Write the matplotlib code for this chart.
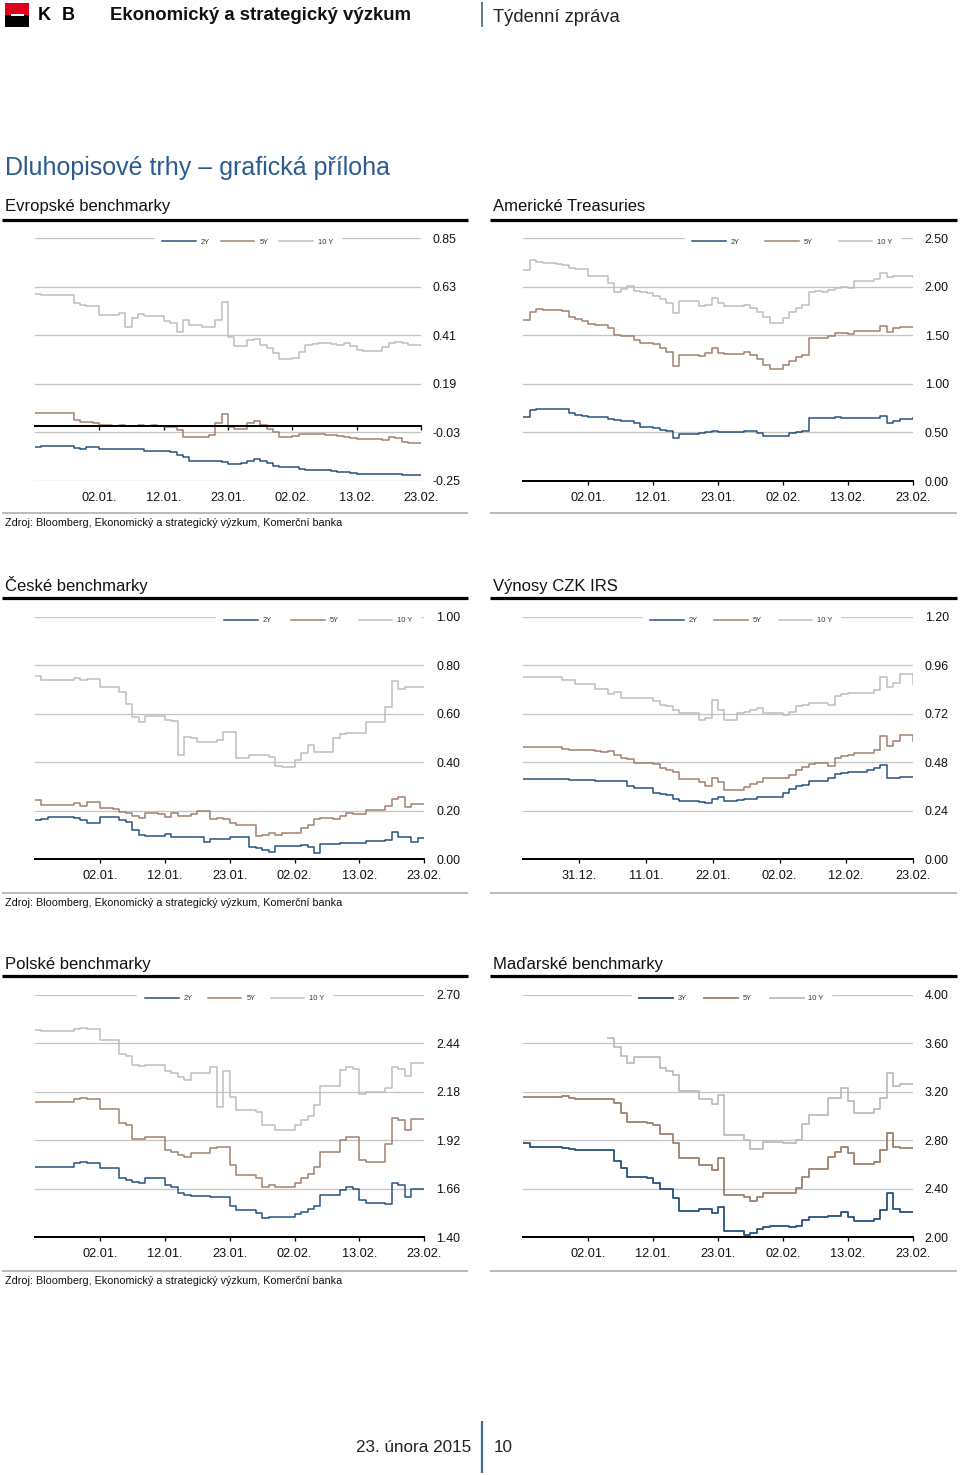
import numpy as np
import matplotlib
matplotlib.use('Agg')
import matplotlib.pyplot as plt
from matplotlib.lines import Line2D
from matplotlib.patches import Rectangle
from matplotlib.ticker import FixedLocator, FormatStrFormatter

plt.rcParams['font.family'] = ['Liberation Sans', 'DejaVu Sans']

nan = np.nan

# ---------------- data ----------------
date_labels = ["02.01.", "12.01.", "23.01.", "02.02.", "13.02.", "23.02."]
irs_date_labels = ["31.12.", "11.01.", "22.01.", "02.02.", "12.02.", "23.02."]
tick_pos = [1, 2, 3, 4, 5, 6]
irs_tick_pos = [0.863, 1.89, 2.92, 3.95, 4.97, 6.0]

eu_ticks = [-0.25, -0.03, 0.19, 0.41, 0.63, 0.85]
us_ticks = [0.0, 0.5, 1.0, 1.5, 2.0, 2.5]
cz_ticks = [0.0, 0.2, 0.4, 0.6, 0.8, 1.0]
irs_ticks = [0.0, 0.24, 0.48, 0.72, 0.96, 1.20]
pl_ticks = [1.40, 1.66, 1.92, 2.18, 2.44, 2.70]
hu_ticks = [2.0, 2.4, 2.8, 3.2, 3.6, 4.0]

labels_std = ["2Y", "5Y", "10 Y"]
labels_hu = ["3Y", "5Y", "10 Y"]

eu_2y = [-0.094, -0.092, -0.090, -0.090, -0.090, -0.090, -0.100, -0.103, -0.097, -0.097,
         -0.106, -0.106, -0.106, -0.104, -0.106, -0.106, -0.106, -0.116, -0.116, -0.112,
         -0.116, -0.118, -0.130, -0.142, -0.158, -0.158, -0.161, -0.158, -0.160, -0.165,
         -0.172, -0.172, -0.170, -0.160, -0.150, -0.158, -0.168, -0.180, -0.185, -0.185,
         -0.185, -0.195, -0.198, -0.200, -0.200, -0.200, -0.203, -0.208, -0.210, -0.212,
         -0.218, -0.218, -0.218, -0.220, -0.220, -0.218, -0.218, -0.222, -0.222, -0.222, -0.222]
eu_5y = [0.060, 0.060, 0.060, 0.060, 0.060, 0.060, 0.027, 0.019, 0.016, 0.014,
         0.004, 0.004, -0.001, 0.004, -0.001, -0.001, 0.002, -0.001, 0.002, -0.001,
         -0.004, -0.007, -0.019, -0.049, -0.049, -0.049, -0.049, -0.041, 0.011, 0.054,
         -0.004, -0.016, -0.016, 0.011, 0.023, 0.004, -0.016, -0.026, -0.049, -0.049,
         -0.046, -0.037, -0.037, -0.038, -0.038, -0.041, -0.041, -0.046, -0.049, -0.057,
         -0.061, -0.061, -0.061, -0.061, -0.064, -0.049, -0.057, -0.073, -0.076, -0.076, -0.076]
eu_10y = [0.598, 0.593, 0.593, 0.593, 0.593, 0.593, 0.555, 0.548, 0.545, 0.545,
          0.502, 0.502, 0.502, 0.510, 0.450, 0.487, 0.507, 0.498, 0.498, 0.498,
          0.477, 0.465, 0.427, 0.480, 0.457, 0.457, 0.447, 0.450, 0.480, 0.563,
          0.404, 0.362, 0.362, 0.389, 0.392, 0.367, 0.351, 0.329, 0.301, 0.301,
          0.306, 0.336, 0.367, 0.371, 0.374, 0.374, 0.371, 0.367, 0.374, 0.362,
          0.344, 0.341, 0.341, 0.341, 0.359, 0.377, 0.382, 0.374, 0.367, 0.367, 0.367]

us_2y = [0.66, 0.73, 0.74, 0.74, 0.74, 0.74, 0.74, 0.70, 0.68, 0.67,
         0.66, 0.66, 0.66, 0.64, 0.63, 0.62, 0.62, 0.60, 0.56, 0.56,
         0.55, 0.53, 0.51, 0.44, 0.48, 0.48, 0.48, 0.49, 0.50, 0.51,
         0.50, 0.50, 0.50, 0.50, 0.51, 0.51, 0.49, 0.46, 0.46, 0.46,
         0.46, 0.49, 0.50, 0.51, 0.65, 0.65, 0.65, 0.65, 0.66, 0.65,
         0.65, 0.65, 0.65, 0.65, 0.65, 0.67, 0.60, 0.62, 0.64, 0.64, 0.65]
us_5y = [1.66, 1.74, 1.77, 1.76, 1.76, 1.76, 1.75, 1.69, 1.67, 1.65,
         1.62, 1.61, 1.61, 1.58, 1.50, 1.49, 1.49, 1.45, 1.42, 1.42,
         1.41, 1.37, 1.33, 1.18, 1.30, 1.30, 1.30, 1.29, 1.32, 1.37,
         1.32, 1.31, 1.31, 1.31, 1.33, 1.30, 1.26, 1.20, 1.15, 1.15,
         1.20, 1.24, 1.28, 1.30, 1.47, 1.47, 1.47, 1.49, 1.52, 1.52,
         1.51, 1.54, 1.54, 1.54, 1.54, 1.60, 1.53, 1.58, 1.59, 1.59, 1.59]
us_10y = [2.17, 2.28, 2.26, 2.25, 2.25, 2.24, 2.22, 2.19, 2.18, 2.18,
          2.11, 2.11, 2.11, 2.04, 1.95, 1.98, 2.01, 1.96, 1.95, 1.94,
          1.91, 1.87, 1.83, 1.73, 1.85, 1.85, 1.85, 1.80, 1.81, 1.89,
          1.83, 1.80, 1.80, 1.80, 1.81, 1.78, 1.74, 1.69, 1.63, 1.63,
          1.68, 1.74, 1.78, 1.81, 1.95, 1.96, 1.95, 1.97, 1.99, 2.00,
          1.99, 2.06, 2.06, 2.06, 2.08, 2.14, 2.10, 2.11, 2.11, 2.11, 2.10]

cz_2y = [0.162, 0.165, 0.176, 0.176, 0.176, 0.176, 0.170, 0.160, 0.150, 0.150,
         0.173, 0.173, 0.173, 0.160, 0.155, 0.120, 0.100, 0.098, 0.098, 0.098,
         0.104, 0.093, 0.093, 0.093, 0.093, 0.093, 0.070, 0.082, 0.082, 0.082,
         0.093, 0.093, 0.093, 0.052, 0.045, 0.040, 0.032, 0.055, 0.055, 0.055,
         0.055, 0.058, 0.050, 0.025, 0.063, 0.063, 0.063, 0.068, 0.066, 0.066,
         0.066, 0.077, 0.077, 0.077, 0.080, 0.114, 0.090, 0.090, 0.070, 0.089, 0.089]
cz_5y = [0.245, 0.225, 0.225, 0.225, 0.225, 0.225, 0.234, 0.218, 0.238, 0.238,
         0.210, 0.210, 0.208, 0.196, 0.190, 0.180, 0.172, 0.192, 0.192, 0.185,
         0.175, 0.190, 0.180, 0.180, 0.185, 0.200, 0.200, 0.165, 0.170, 0.165,
         0.150, 0.141, 0.141, 0.141, 0.098, 0.100, 0.108, 0.100, 0.107, 0.107,
         0.107, 0.128, 0.140, 0.165, 0.170, 0.170, 0.165, 0.178, 0.190, 0.185,
         0.185, 0.203, 0.203, 0.203, 0.220, 0.250, 0.258, 0.215, 0.228, 0.228, 0.228]
cz_10y = [0.755, 0.739, 0.739, 0.739, 0.739, 0.739, 0.748, 0.738, 0.742, 0.742,
          0.712, 0.712, 0.712, 0.690, 0.640, 0.588, 0.567, 0.590, 0.590, 0.590,
          0.574, 0.570, 0.430, 0.505, 0.500, 0.485, 0.485, 0.485, 0.490, 0.526,
          0.526, 0.416, 0.416, 0.430, 0.430, 0.430, 0.423, 0.385, 0.379, 0.379,
          0.410, 0.440, 0.470, 0.444, 0.444, 0.444, 0.500, 0.515, 0.522, 0.520,
          0.520, 0.567, 0.567, 0.567, 0.629, 0.735, 0.700, 0.712, 0.712, 0.712, 0.712]

irs_2y = [0.397, 0.395, 0.397, 0.397, 0.397, 0.397, 0.395, 0.392, 0.392, 0.392,
          0.390, 0.389, 0.389, 0.389, 0.389, 0.385, 0.365, 0.355, 0.351, 0.351,
          0.330, 0.323, 0.318, 0.300, 0.290, 0.290, 0.290, 0.285, 0.278, 0.300,
          0.310, 0.288, 0.288, 0.292, 0.297, 0.300, 0.310, 0.310, 0.310, 0.310,
          0.330, 0.350, 0.365, 0.368, 0.387, 0.387, 0.387, 0.400, 0.420, 0.428,
          0.434, 0.434, 0.434, 0.440, 0.450, 0.467, 0.400, 0.400, 0.407, 0.407, 0.407]
irs_5y = [0.557, 0.557, 0.557, 0.557, 0.557, 0.557, 0.545, 0.541, 0.541, 0.541,
          0.541, 0.535, 0.532, 0.535, 0.515, 0.500, 0.495, 0.478, 0.478, 0.478,
          0.470, 0.450, 0.442, 0.430, 0.396, 0.396, 0.396, 0.380, 0.365, 0.400,
          0.380, 0.343, 0.343, 0.345, 0.360, 0.370, 0.384, 0.400, 0.400, 0.400,
          0.400, 0.415, 0.440, 0.458, 0.470, 0.475, 0.475, 0.462, 0.500, 0.510,
          0.515, 0.527, 0.527, 0.527, 0.540, 0.610, 0.560, 0.585, 0.615, 0.615, 0.585]
irs_10y = [0.903, 0.903, 0.903, 0.903, 0.903, 0.903, 0.887, 0.887, 0.867, 0.867,
           0.867, 0.842, 0.842, 0.820, 0.830, 0.800, 0.800, 0.800, 0.800, 0.800,
           0.785, 0.765, 0.760, 0.740, 0.722, 0.722, 0.722, 0.690, 0.700, 0.790,
           0.740, 0.690, 0.690, 0.725, 0.730, 0.740, 0.748, 0.722, 0.722, 0.722,
           0.715, 0.730, 0.760, 0.765, 0.775, 0.775, 0.775, 0.765, 0.810, 0.820,
           0.824, 0.824, 0.824, 0.824, 0.835, 0.900, 0.850, 0.870, 0.917, 0.917, 0.867]

pl_2y = [1.779, 1.779, 1.779, 1.779, 1.779, 1.779, 1.800, 1.805, 1.800, 1.800,
         1.770, 1.770, 1.770, 1.720, 1.707, 1.695, 1.689, 1.720, 1.720, 1.720,
         1.680, 1.671, 1.640, 1.627, 1.621, 1.621, 1.621, 1.618, 1.614, 1.614,
         1.570, 1.547, 1.547, 1.547, 1.530, 1.502, 1.510, 1.507, 1.507, 1.507,
         1.525, 1.537, 1.550, 1.570, 1.627, 1.627, 1.627, 1.654, 1.670, 1.660,
         1.600, 1.582, 1.582, 1.582, 1.578, 1.689, 1.680, 1.614, 1.657, 1.657, 1.657]
pl_5y = [2.127, 2.127, 2.127, 2.127, 2.127, 2.127, 2.140, 2.145, 2.140, 2.140,
         2.086, 2.086, 2.086, 2.010, 2.002, 1.925, 1.925, 1.939, 1.939, 1.939,
         1.870, 1.859, 1.840, 1.832, 1.854, 1.854, 1.854, 1.880, 1.886, 1.886,
         1.790, 1.734, 1.734, 1.734, 1.720, 1.671, 1.680, 1.671, 1.671, 1.671,
         1.690, 1.716, 1.740, 1.779, 1.859, 1.859, 1.859, 1.920, 1.939, 1.935,
         1.814, 1.805, 1.805, 1.805, 1.900, 2.040, 2.030, 1.975, 2.034, 2.034, 2.034]
pl_10y = [2.510, 2.507, 2.507, 2.507, 2.507, 2.507, 2.515, 2.520, 2.514, 2.514,
          2.457, 2.457, 2.457, 2.380, 2.371, 2.323, 2.320, 2.323, 2.323, 2.323,
          2.290, 2.282, 2.260, 2.243, 2.279, 2.279, 2.279, 2.314, 2.100, 2.290,
          2.150, 2.082, 2.082, 2.082, 2.070, 2.000, 2.000, 1.975, 1.975, 1.975,
          2.000, 2.029, 2.050, 2.110, 2.210, 2.210, 2.210, 2.296, 2.310, 2.300,
          2.168, 2.180, 2.180, 2.180, 2.200, 2.314, 2.300, 2.264, 2.332, 2.332, 2.332]

hu_3y = [2.780, 2.747, 2.747, 2.747, 2.747, 2.747, 2.740, 2.725, 2.720, 2.720,
         2.720, 2.720, 2.720, 2.720, 2.632, 2.569, 2.500, 2.500, 2.500, 2.486,
         2.450, 2.396, 2.396, 2.321, 2.220, 2.220, 2.220, 2.233, 2.233, 2.198,
         2.247, 2.052, 2.052, 2.052, 2.019, 2.035, 2.066, 2.088, 2.093, 2.093,
         2.093, 2.082, 2.090, 2.143, 2.165, 2.165, 2.165, 2.176, 2.176, 2.209,
         2.165, 2.137, 2.137, 2.137, 2.150, 2.225, 2.368, 2.231, 2.206, 2.206, 2.206]
hu_5y = [3.159, 3.159, 3.159, 3.159, 3.159, 3.159, 3.165, 3.150, 3.140, 3.140,
         3.140, 3.140, 3.140, 3.140, 3.104, 3.022, 2.953, 2.953, 2.953, 2.940,
         2.926, 2.852, 2.852, 2.780, 2.651, 2.651, 2.651, 2.596, 2.596, 2.555,
         2.651, 2.349, 2.349, 2.349, 2.335, 2.302, 2.335, 2.368, 2.368, 2.368,
         2.368, 2.368, 2.404, 2.500, 2.560, 2.560, 2.560, 2.665, 2.706, 2.742,
         2.692, 2.604, 2.604, 2.604, 2.620, 2.720, 2.857, 2.747, 2.733, 2.733, 2.733]
hu_10y = [nan, nan, nan, nan, nan, nan, nan, nan, nan, nan,
          nan, nan, nan, 3.646, 3.566, 3.494, 3.434, 3.489, 3.489, 3.489,
          3.489, 3.393, 3.370, 3.338, 3.209, 3.209, 3.209, 3.137, 3.137, 3.099,
          3.173, 2.843, 2.843, 2.843, 2.802, 2.725, 2.725, 2.788, 2.788, 2.788,
          2.775, 2.775, 2.800, 2.934, 3.008, 3.008, 3.008, 3.146, 3.146, 3.228,
          3.120, 3.022, 3.022, 3.022, 3.060, 3.146, 3.357, 3.247, 3.261, 3.261, 3.261]

# ---------------- styling ----------------
C_SHORT = '#24507A'
C_MID = '#A07E6C'
C_LONG = '#BDBDBD'
C_GRID = '#C4C4C4'
C_BLUE = '#2B5C8F'

W, H = 960, 1475
fig = plt.figure(figsize=(W / 100, H / 100), dpi=100)
PX = 0.72  # points per pixel


def fx(x):
    return x / W


def fy(y):
    return 1 - y / H


def fig_line(x0, x1, y0, y1, color, lw_px):
    fig.add_artist(Line2D([fx(x0), fx(x1)], [fy(y0), fy(y1)], transform=fig.transFigure,
                          color=color, lw=lw_px * PX, solid_capstyle='butt'))


# ---------------- header ----------------
fig.add_artist(Rectangle((fx(5), fy(15)), fx(24), 12 / H, transform=fig.transFigure,
                         facecolor='#E2001A', edgecolor='none'))
fig.add_artist(Rectangle((fx(5), fy(26.5)), fx(24), 11.5 / H, transform=fig.transFigure,
                         facecolor='#000000', edgecolor='none'))
fig.add_artist(Rectangle((fx(10.5), fy(16)), fx(13), 2.5 / H, transform=fig.transFigure,
                         facecolor='white', edgecolor='none'))
fig.text(fx(37.5), fy(20), "K", fontsize=13, fontweight='bold', ha='left', va='baseline')
fig.text(fx(61.5), fy(20), "B", fontsize=13, fontweight='bold', ha='left', va='baseline')
fig.text(fx(110), fy(20.5), "Ekonomický a strategický výzkum", fontsize=13.4, fontweight='bold',
         ha='left', va='baseline', color='#111111')
fig_line(482.5, 482.5, 2, 27, '#5B7FA3', 2)
fig.text(fx(493), fy(21.5), "Týdenní zpráva", fontsize=13.2, ha='left', va='baseline',
         color='#222222')

fig.text(fx(5), fy(174.5), "Dluhopisové trhy – grafická příloha", fontsize=18, ha='left',
         va='baseline', color=C_BLUE)

# ---------------- panels ----------------
rows = [dict(title_y=211, rule_y=220, bottom_y=513, source_y=526.5, top=238.3, bot=481),
        dict(title_y=590.5, rule_y=598, bottom_y=892.7, source_y=905.5, top=616.7, bot=859.3),
        dict(title_y=969, rule_y=976, bottom_y=1270.7, source_y=1284.5, top=994.7, bot=1237.3)]

panels = [
    dict(title="Evropské benchmarky", row=0, col=0, l=35, r=421, series=[eu_2y, eu_5y, eu_10y],
         labels=labels_std, yticks=eu_ticks, xt=tick_pos, xl=date_labels, leg_x=162, cs=1.45, axis0=True),
    dict(title="Americké Treasuries", row=0, col=1, l=523.3, r=912.7, series=[us_2y, us_5y, us_10y],
         labels=labels_std, yticks=us_ticks, xt=tick_pos, xl=date_labels, leg_x=692, cs=3.4, axis0=False),
    dict(title="České benchmarky", row=1, col=0, l=35, r=424.3, series=[cz_2y, cz_5y, cz_10y],
         labels=labels_std, yticks=cz_ticks, xt=tick_pos, xl=date_labels, leg_x=224, cs=2.6, axis0=False),
    dict(title="Výnosy CZK IRS", row=1, col=1, l=523.3, r=912.7, series=[irs_2y, irs_5y, irs_10y],
         labels=labels_std, yticks=irs_ticks, xt=irs_tick_pos, xl=irs_date_labels, leg_x=650, cs=2.2, axis0=False),
    dict(title="Polské benchmarky", row=2, col=0, l=35, r=424.3, series=[pl_2y, pl_5y, pl_10y],
         labels=labels_std, yticks=pl_ticks, xt=tick_pos, xl=date_labels, leg_x=145, cs=2.0, axis0=False),
    dict(title="Maďarské benchmarky", row=2, col=1, l=523.3, r=912.7, series=[hu_3y, hu_5y, hu_10y],
         labels=labels_hu, yticks=hu_ticks, xt=tick_pos, xl=date_labels, leg_x=639, cs=2.35, axis0=False),
]

colors = [C_SHORT, C_MID, C_LONG]
source_text = "Zdroj: Bloomberg, Ekonomický a strategický výzkum, Komerční banka"
LEG_FS = 5.4

for p in panels:
    rw = rows[p['row']]
    l, r, top, bot = p['l'], p['r'], rw['top'], rw['bot']
    ax = fig.add_axes([fx(l), fy(bot), (r - l) / W, (bot - top) / H])
    ax.set_axisbelow(True)
    handles = []
    for vals, c, lab in zip(p['series'], colors, p['labels']):
        y = np.array(vals, dtype=float)
        xs = np.linspace(0, 6, len(y))
        lw_px = 1.8 if (p['row'] == 2 and p['col'] == 1) else 1.5
        h, = ax.step(xs, y, where='post', color=c, lw=lw_px * PX, label=lab)
        handles.append(h)
    yt = p['yticks']
    ax.set_ylim(yt[0], yt[-1])
    ax.set_xlim(0, 6)
    ax.yaxis.set_major_locator(FixedLocator(yt))
    ax.yaxis.set_major_formatter(FormatStrFormatter('%.2f'))
    ax.yaxis.tick_right()
    ax.tick_params(axis='y', length=0, pad=8.6, labelsize=8.9, colors='#111111')
    ax.yaxis.grid(True, color=C_GRID, lw=1.3 * PX)
    for s in ['top', 'left', 'right']:
        ax.spines[s].set_visible(False)
    ax.spines['bottom'].set_color('black')
    ax.spines['bottom'].set_linewidth(2.0 * PX)
    ax.set_xticks(p['xt'])
    ax.set_xticklabels(p['xl'])
    if p['axis0']:
        ax.spines['bottom'].set_position(('data', 0))
        zero_px = top + (yt[-1] - 0) / (yt[-1] - yt[0]) * (bot - top)
        pad_px = 7 + (bot - zero_px)
    else:
        pad_px = 7
    ax.tick_params(axis='x', direction='out', length=4 * PX, width=1.3 * PX,
                   pad=pad_px * PX, labelsize=9.2, colors='black')
    ax.tick_params(axis='x', labelcolor='#111111')
    # legend over the top grid line
    fs_px = LEG_FS / PX
    anchor = (p['leg_x'] - fs_px * 1.0 - l) / (r - l)
    leg = ax.legend(handles, p['labels'], loc='center left',
                    bbox_to_anchor=(anchor, 1 - 4 / (bot - top)), ncol=3, fontsize=LEG_FS,
                    frameon=True, fancybox=False, framealpha=1, edgecolor='white',
                    facecolor='white', handlelength=4.5, handletextpad=0.65,
                    columnspacing=p['cs'], borderpad=1.0, borderaxespad=0)
    leg.set_zorder(5)
    for t in leg.get_texts():
        t.set_color('#333333')

    # titles and rules
    if p['col'] == 0:
        tx, rx0, rx1 = 5, 2, 468
    else:
        tx, rx0, rx1 = 493, 490, 957
    fig.text(fx(tx), fy(rw['title_y']), p['title'], fontsize=12, ha='left', va='baseline',
             color='#111111')
    fig_line(rx0, rx1, rw['rule_y'], rw['rule_y'], 'black', 3.2)
    fig_line(rx0, rx1, rw['bottom_y'], rw['bottom_y'], '#BBBBBB', 2)

for rw in rows:
    fig.text(fx(5), fy(rw['source_y']), source_text, fontsize=7.75, ha='left', va='baseline',
             color='#111111')

# ---------------- footer ----------------
fig.text(fx(471), fy(1452), "23. února 2015", fontsize=12.3, ha='right', va='baseline',
         color='#222222')
fig.text(fx(494), fy(1452), "10", fontsize=12.3, ha='left', va='baseline', color='#222222')
fig_line(482, 482, 1421, 1473, '#3D6A96', 2.2)

fig.savefig('out.png', dpi=100, facecolor='white')
